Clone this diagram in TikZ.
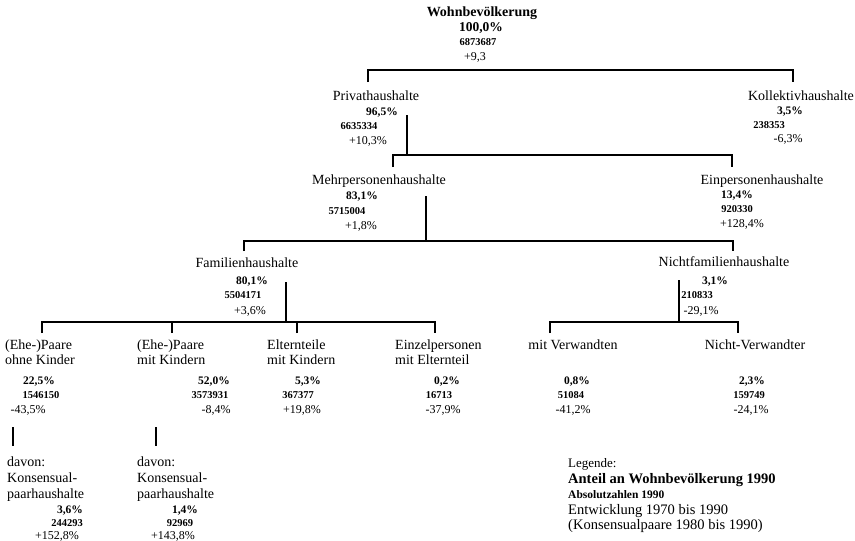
\documentclass[tikz,border=0pt]{standalone}
\usepackage{fontspec}
\setmainfont{Liberation Serif}
\begin{document}
\begin{tikzpicture}[x=1pt,y=-1pt,
  every node/.style={inner sep=0pt,anchor=base},
  ttl/.style={font=\fontsize{14}{15}\selectfont\bfseries},
  lab/.style={font=\fontsize{14}{15}\selectfont},
  pct/.style={font=\fontsize{11.5}{13}\selectfont\bfseries},
  abs/.style={font=\fontsize{10.5}{12}\selectfont\bfseries},
  chg/.style={font=\fontsize{12}{14}\selectfont},
  leg/.style={font=\fontsize{14.5}{16}\selectfont,anchor=base west},
  link/.style={line width=1.3pt}]
\useasboundingbox (0,0) rectangle (855,541);

% ---------- top: total resident population ----------
\node[ttl] (wb)  at (482,16) {Wohnbevölkerung};
\node[pct,font=\fontsize{13.5}{15}\selectfont\bfseries] (wbp) at (481,31) {100,0\%};
\node[abs] (wba) at (478,45) {6873687};
\node[chg] (wbc) at (475,60) {+9,3};

% ---------- level 1 ----------
\node[lab] (priv)  at (376,100) {Privathaushalte};
\node[pct] (privp) at (382,115) {96,5\%};
\node[abs] (priva) at (359,129) {6635334};
\node[chg] (privc) at (368,144) {+10,3\%};

\node[lab] (koll)  at (801,100) {Kollektivhaushalte};
\node[pct] (kollp) at (790,114) {3,5\%};
\node[abs] (kolla) at (769,128) {238353};
\node[chg] (kollc) at (788,142) {-6,3\%};

% ---------- level 2 ----------
\node[lab] (mehr)  at (379,184) {Mehrpersonenhaushalte};
\node[pct] (mehrp) at (362,199) {83,1\%};
\node[abs] (mehra) at (347,214) {5715004};
\node[chg] (mehrc) at (361,229) {+1,8\%};

\node[lab] (einp)  at (762,184) {Einpersonenhaushalte};
\node[pct] (einpp) at (737,198) {13,4\%};
\node[abs] (einpa) at (737,212) {920330};
\node[chg] (einpc) at (742,227) {+128,4\%};

% ---------- level 3 ----------
\node[lab] (fam)  at (247,267) {Familienhaushalte};
\node[pct] (famp) at (252,284) {80,1\%};
\node[abs] (fama) at (243,298) {5504171};
\node[chg] (famc) at (250,314) {+3,6\%};

\node[lab] (nfam)  at (724,266) {Nichtfamilienhaushalte};
\node[pct] (nfamp) at (715,284) {3,1\%};
\node[abs] (nfama) at (697,298) {210833};
\node[chg] (nfamc) at (701,314) {-29,1\%};

% ---------- level 4: family households ----------
\node[lab,anchor=base west] (ok1) at (5,349) {(Ehe-)Paare};
\node[lab,anchor=base west] (ok2) at (5,364) {ohne Kinder};
\node[pct] (okp) at (39,384) {22,5\%};
\node[abs] (oka) at (41,398) {1546150};
\node[chg] (okc) at (28,413) {-43,5\%};

\node[lab,anchor=base west] (mk1) at (137,349) {(Ehe-)Paare};
\node[lab,anchor=base west] (mk2) at (137,364) {mit Kindern};
\node[pct] (mkp) at (214,384) {52,0\%};
\node[abs] (mka) at (210,398) {3573931};
\node[chg] (mkc) at (216,413) {-8,4\%};

\node[lab,anchor=base west] (ek1) at (267,349) {Elternteile};
\node[lab,anchor=base west] (ek2) at (267,364) {mit Kindern};
\node[pct] (ekp) at (308,384) {5,3\%};
\node[abs] (eka) at (298,398) {367377};
\node[chg] (ekc) at (302,413) {+19,8\%};

\node[lab,anchor=base west] (ez1) at (395,349) {Einzelpersonen};
\node[lab,anchor=base west] (ez2) at (395,364) {mit Elternteil};
\node[pct] (ezp) at (447,384) {0,2\%};
\node[abs] (eza) at (439,398) {16713};
\node[chg] (ezc) at (443,413) {-37,9\%};

% ---------- level 4: non-family households ----------
\node[lab] (mv)  at (573,349) {mit Verwandten};
\node[pct] (mvp) at (577,384) {0,8\%};
\node[abs] (mva) at (571,398) {51084};
\node[chg] (mvc) at (573,413) {-41,2\%};

\node[lab] (nv)  at (755,349) {Nicht-Verwandter};
\node[pct] (nvp) at (752,384) {2,3\%};
\node[abs] (nva) at (749,398) {159749};
\node[chg] (nvc) at (751,413) {-24,1\%};

% ---------- consensual couples ----------
\node[lab,anchor=base west] (ka1) at (7,466) {davon:};
\node[lab,anchor=base west] (ka2) at (7,482) {Konsensual-};
\node[lab,anchor=base west] (ka3) at (7,498) {paarhaushalte};
\node[pct] (kap) at (70,513) {3,6\%};
\node[abs] (kaa) at (67,526) {244293};
\node[chg] (kac) at (57,539) {+152,8\%};

\node[lab,anchor=base west] (kb1) at (137,466) {davon:};
\node[lab,anchor=base west] (kb2) at (137,482) {Konsensual-};
\node[lab,anchor=base west] (kb3) at (137,498) {paarhaushalte};
\node[pct] (kbp) at (185,513) {1,4\%};
\node[abs] (kba) at (180,526) {92969};
\node[chg] (kbc) at (173,539) {+143,8\%};

% ---------- legend ----------
\node[leg,font=\fontsize{13}{15}\selectfont] (lg0) at (568,467) {Legende:};
\node[leg,font=\fontsize{14.5}{16}\selectfont\bfseries] (lg1) at (568,483) {Anteil an Wohnbevölkerung 1990};
\node[leg,font=\fontsize{11.5}{13}\selectfont\bfseries] (lg2) at (568,498) {Absolutzahlen 1990};
\node[leg] (lg3) at (568,514) {Entwicklung 1970 bis 1990};
\node[leg] (lg4) at (568,529) {(Konsensualpaare 1980 bis 1990)};

% ---------- connector geometry ----------
\coordinate (b1) at (0,70);
\coordinate (b2) at (0,155);
\coordinate (b3) at (0,241);
\coordinate (b4) at (0,322);

\coordinate (t-priv) at (368,82);
\coordinate (t-koll) at (793,82);
\coordinate (s-priv) at (407,115);
\coordinate (t-mehr) at (393,167);
\coordinate (t-einp) at (732,167);
\coordinate (s-mehr) at (426,196);
\coordinate (t-fam)  at (244,251);
\coordinate (t-nfam) at (733,251);
\coordinate (s-fam)  at (286,282);
\coordinate (s-nfam) at (679,280);
\coordinate (t-ok) at (42,333);
\coordinate (t-mk) at (172,333);
\coordinate (t-ek) at (297,333);
\coordinate (t-ez) at (435,333);
\coordinate (t-mv) at (550,333);
\coordinate (t-nv) at (738,333);
\coordinate (s-ka) at (13,427);
\coordinate (e-ka) at (13,446);
\coordinate (s-kb) at (156,427);
\coordinate (e-kb) at (156,446);

% ---------- connectors ----------
% Wohnbevölkerung -> Privat-/Kollektivhaushalte
\draw[link] (t-priv) -- (t-priv |- b1) -- (t-koll |- b1) -- (t-koll);
% Privathaushalte -> Mehr-/Einpersonenhaushalte
\draw[link] (s-priv) -- (s-priv |- b2);
\draw[link] (t-mehr) -- (t-mehr |- b2) -- (t-einp |- b2) -- (t-einp);
% Mehrpersonenhaushalte -> Familien-/Nichtfamilienhaushalte
\draw[link] (s-mehr) -- (s-mehr |- b3);
\draw[link] (t-fam) -- (t-fam |- b3) -- (t-nfam |- b3) -- (t-nfam);
% Familienhaushalte -> four household types
\draw[link] (s-fam) -- (s-fam |- b4);
\draw[link] (t-ok) -- (t-ok |- b4) -- (t-ez |- b4) -- (t-ez);
\draw[link] (t-mk) -- (t-mk |- b4);
\draw[link] (t-ek) -- (t-ek |- b4);
% Nichtfamilienhaushalte -> two types
\draw[link] (s-nfam) -- (s-nfam |- b4);
\draw[link] (t-mv) -- (t-mv |- b4) -- (t-nv |- b4) -- (t-nv);
% couples -> consensual couples
\draw[link] (s-ka) -- (e-ka);
\draw[link] (s-kb) -- (e-kb);
\end{tikzpicture}
\end{document}
